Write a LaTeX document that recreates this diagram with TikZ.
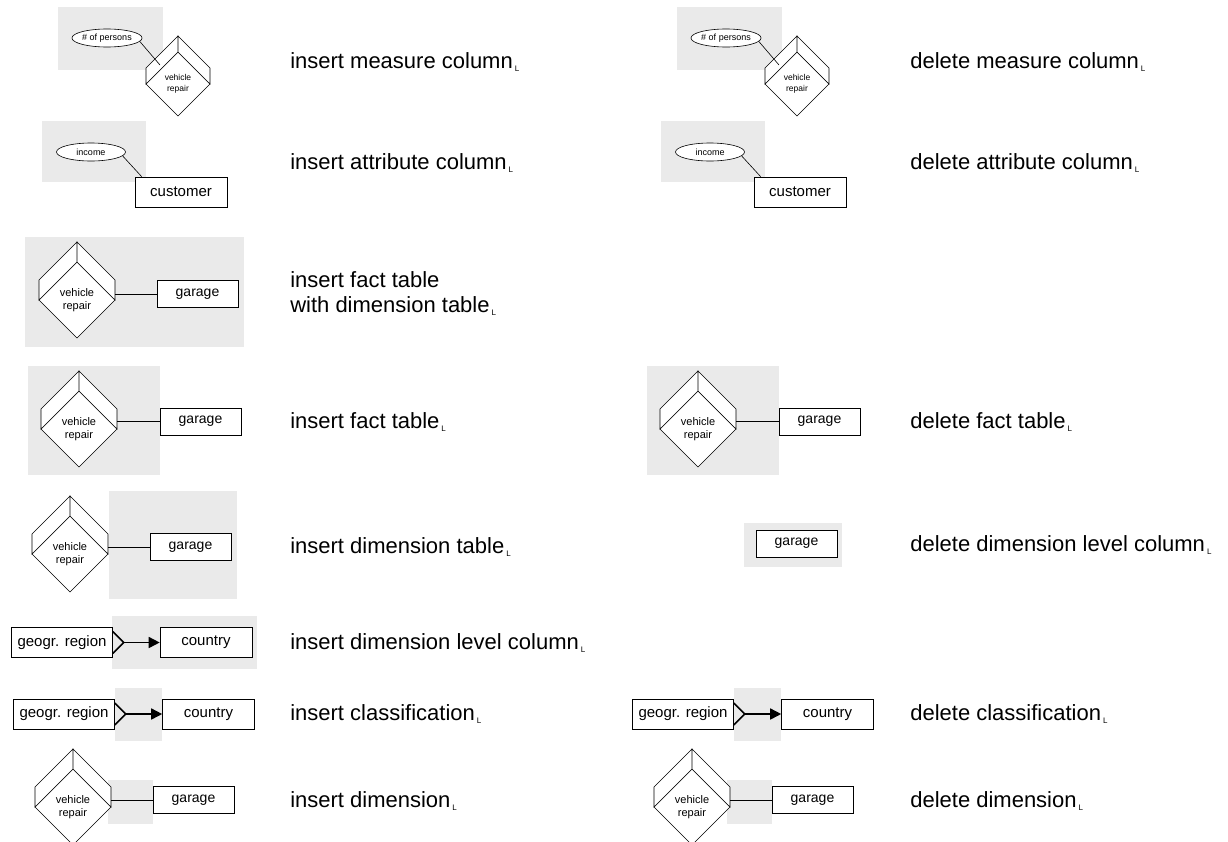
\documentclass[tikz,border=0pt]{standalone}
\usepackage{fontspec}
\setmainfont{Liberation Sans}
\usetikzlibrary{arrows.meta,positioning,shapes.geometric,calc}
\definecolor{hl}{RGB}{234,234,234}
\newcommand{\lsub}{\kern2pt\raisebox{-3.5pt}{\fontsize{8}{8}\selectfont L}}
\newcommand{\cubeback}[2]{%
  \filldraw[fill=white] (#1.west) -- ++(0,-#2) -- ($(#1.north)+(0,-#2)$) -- (#1.north) -- cycle
    ($(#1.north)+(0,-#2)$) -- ($(#1.east)+(0,-#2)$) -- (#1.east) -- (#1.north) -- cycle;
}

\begin{document}
\begin{tikzpicture}[
  x=1pt, y=-1pt, line width=0.6pt,
  every node/.style={font=\fontsize{15}{17}\selectfont},
  hlarea/.style={fill=hl},
  entity/.style={draw, fill=white, inner sep=0pt, minimum height=30pt, minimum width=92pt},
  level/.style={entity, minimum width=101pt},
  dimbox/.style={draw, fill=white, inner sep=0pt, minimum height=27pt, minimum width=81pt, font=\fontsize{14}{16}\selectfont},
  attr/.style={draw, ellipse, fill=white, inner sep=0pt, minimum width=69pt, minimum height=18pt, font=\fontsize{9}{10}\selectfont},
  fact/.style={draw, diamond, fill=white, inner sep=0pt, outer sep=0pt, minimum width=76pt, minimum height=76pt, align=center, font=\fontsize{11}{13}\selectfont},
  smallfact/.style={fact, minimum width=64pt, minimum height=64pt, font=\fontsize{8.5}{10.5}\selectfont},
  op/.style={anchor=base west, inner sep=0pt, align=left, font=\fontsize{22}{25}\selectfont},
  hier/.style={-{Triangle[length=11pt,width=11pt]}, line width=1.6pt},
  crow/.style={line width=1.6pt}
]
\useasboundingbox (0,0) rectangle (1228,841);

\fill[hlarea] (58,7) rectangle (163,70);
\node[smallfact] (rep1) at (178,84) {vehicle\\repair};
\cubeback{rep1}{16}
\node[attr] (pers1) at (107,38) {\# of persons};
\draw (pers1.-6) -- ($(rep1)+(-18,-19)$);
\node[op] (op1) at (290,68) {insert measure column\lsub};

\fill[hlarea] (677,7) rectangle (782,70);
\node[smallfact] (rep1r) at (797,84) {vehicle\\repair};
\cubeback{rep1r}{16}
\node[attr] (pers1r) at (726,38) {\# of persons};
\draw (pers1r.-6) -- ($(rep1r)+(-18,-19)$);
\node[op] (op1r) at (910,68) {delete measure column\lsub};

\fill[hlarea] (42,121) rectangle (146,182);
\node[attr] (inc2) at (91,152) {income};
\node[entity] (cust2) at (181,192) {customer};
\draw (inc2.-7) -- ($(cust2.north west)+(7,0)$);
\node[op] (op2) at (290,169) {insert attribute column\lsub};

\fill[hlarea] (661,121) rectangle (765,182);
\node[attr] (inc2r) at (710,152) {income};
\node[entity] (cust2r) at (800,192) {customer};
\draw (inc2r.-7) -- ($(cust2r.north west)+(7,0)$);
\node[op] (op2r) at (910,169) {delete attribute column\lsub};

\fill[hlarea] (25,237) rectangle (244,347);
\node[fact] (rep3) at (77,300) {vehicle\\repair};
\cubeback{rep3}{20}
\node[dimbox] (gar3) at (197.5,294) {garage};
\draw (rep3.east |- gar3.west) -- (gar3.west);
\node[op] (op3) at (290,312) {insert fact table\\with dimension table\lsub};

\fill[hlarea] (28,366) rectangle (160,475);
\node[fact] (rep4) at (79,429) {vehicle\\repair};
\cubeback{rep4}{20}
\node[dimbox] (gar4) at (200.5,421.5) {garage};
\draw (rep4.east |- gar4.west) -- (gar4.west);
\node[op] (op4) at (290,428) {insert fact table\lsub};

\fill[hlarea] (647,366) rectangle (779,475);
\node[fact] (rep4r) at (698,429) {vehicle\\repair};
\cubeback{rep4r}{20}
\node[dimbox] (gar4r) at (819.5,421.5) {garage};
\draw (rep4r.east |- gar4r.west) -- (gar4r.west);
\node[op] (op4r) at (910,428) {delete fact table\lsub};

\fill[hlarea] (109,491) rectangle (237,599);
\node[fact] (rep5) at (70,554) {vehicle\\repair};
\cubeback{rep5}{20}
\node[dimbox] (gar5) at (190.5,547) {garage};
\draw (rep5.east |- gar5.west) -- (gar5.west);
\node[op] (op5) at (290,553) {insert dimension table\lsub};

\fill[hlarea] (744,523) rectangle (842,567);
\node[dimbox] (gar5r) at (796.5,543.5) {garage};
\node[op] (op5r) at (910,551) {delete dimension level column\lsub};

\fill[hlarea] (112,616) rectangle (257,669);
\node[level] (geo6) at (62,642.5) {geogr. region};
\node[entity] (cty6) at (206,642.5) {country};
\draw[crow] ($(geo6.east)+(0,-11)$) -- ($(geo6.east)+(11,0)$) -- ($(geo6.east)+(0,11)$);
\draw[hier] ($(geo6.east)+(11,0)$) -- (cty6.west);
\node[op] (op6) at (290,649) {insert dimension level column\lsub};

\fill[hlarea] (115,688) rectangle (162,741);
\node[level] (geo7) at (64,714) {geogr. region};
\node[entity] (cty7) at (208.5,714) {country};
\draw[crow] ($(geo7.east)+(0,-11)$) -- ($(geo7.east)+(11,0)$) -- ($(geo7.east)+(0,11)$);
\draw[hier] ($(geo7.east)+(11,0)$) -- (cty7.west);
\node[op] (op7) at (290,720) {insert classification\lsub};

\fill[hlarea] (734,688) rectangle (781,741);
\node[level] (geo7r) at (683,714) {geogr. region};
\node[entity] (cty7r) at (827.5,714) {country};
\draw[crow] ($(geo7r.east)+(0,-11)$) -- ($(geo7r.east)+(11,0)$) -- ($(geo7r.east)+(0,11)$);
\draw[hier] ($(geo7r.east)+(11,0)$) -- (cty7r.west);
\node[op] (op7r) at (910,720) {delete classification\lsub};

\fill[hlarea] (108,780) rectangle (153,824);
\node[fact] (rep8) at (73,807) {vehicle\\repair};
\cubeback{rep8}{20}
\node[dimbox] (gar8) at (193.5,800) {garage};
\draw (rep8.east |- gar8.west) -- (gar8.west);
\node[op] (op8) at (290,807) {insert dimension\lsub};

\fill[hlarea] (727,780) rectangle (772,824);
\node[fact] (rep8r) at (692,807) {vehicle\\repair};
\cubeback{rep8r}{20}
\node[dimbox] (gar8r) at (812.5,800) {garage};
\draw (rep8r.east |- gar8r.west) -- (gar8r.west);
\node[op] (op8r) at (910,807) {delete dimension\lsub};
\end{tikzpicture}
\end{document}
